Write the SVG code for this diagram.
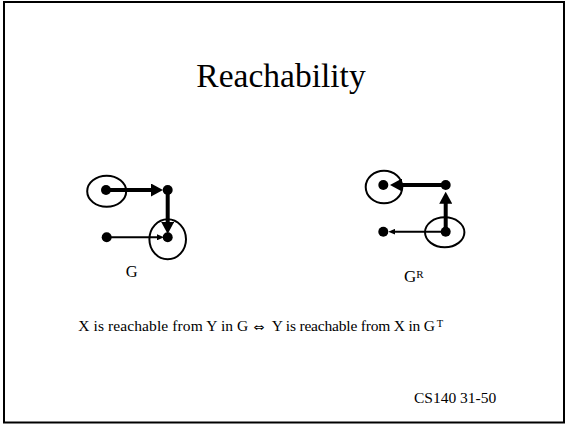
<svg xmlns="http://www.w3.org/2000/svg" width="565" height="424" viewBox="0 0 565 424">
<style>
text{font-family:"Liberation Serif","Times New Roman",serif;fill:#000}
.node{fill:#000}
.ring{fill:none;stroke:#000;stroke-width:2}
.thick{stroke:#000;stroke-width:4;fill:none}
.thin{stroke:#000;stroke-width:2;fill:none}
</style>
<defs>
<marker id="hb" viewBox="0 0 12 13" refX="4" refY="6.5" markerWidth="12" markerHeight="13" markerUnits="userSpaceOnUse" orient="auto"><path d="M0,0 L12,6.5 L0,13 z" fill="#000"/></marker>
<marker id="hs" viewBox="0 0 7 6" refX="2" refY="3" markerWidth="7" markerHeight="6" markerUnits="userSpaceOnUse" orient="auto"><path d="M0,0 L7,3 L0,6 z" fill="#000"/></marker>
</defs>
<rect x="4" y="2" width="560" height="420.5" fill="#fff" stroke="#000" stroke-width="2"/>
<text x="281" y="87" font-size="33.5" text-anchor="middle">Reachability</text>
<g id="connectors">
<line class="thick" x1="106" y1="190" x2="155" y2="190" marker-end="url(#hb)"/>
<line class="thick" x1="167.7" y1="190" x2="167.7" y2="226" marker-end="url(#hb)"/>
<line class="thin" x1="106.7" y1="237.3" x2="159" y2="237.3" marker-end="url(#hs)"/>
<line class="thick" x1="445.7" y1="185" x2="398" y2="185" marker-end="url(#hb)"/>
<line class="thick" x1="445.7" y1="231.7" x2="445.7" y2="199.7" marker-end="url(#hb)"/>
<line class="thin" x1="445.7" y1="231.7" x2="393.3" y2="231.7" marker-end="url(#hs)"/>
</g>
<g id="g-a"><ellipse class="ring" cx="106.7" cy="191.3" rx="19.5" ry="15.5"/><circle class="node" cx="106" cy="190" r="5"/></g>
<g id="g-b"><circle class="node" cx="167.7" cy="190" r="5"/></g>
<g id="g-c"><ellipse class="ring" cx="167.7" cy="239.3" rx="18.3" ry="20"/><circle class="node" cx="167.7" cy="237.3" r="5"/></g>
<g id="g-d"><circle class="node" cx="106.7" cy="237.3" r="5"/></g>
<g id="r-a"><ellipse class="ring" cx="384" cy="187" rx="18.3" ry="16.3"/><circle class="node" cx="383.3" cy="185" r="5"/></g>
<g id="r-b"><circle class="node" cx="445.7" cy="185" r="5"/></g>
<g id="r-c"><ellipse class="ring" cx="444.7" cy="232.3" rx="19.7" ry="15"/><circle class="node" cx="445.7" cy="231.7" r="5"/></g>
<g id="r-d"><circle class="node" cx="383.3" cy="231.7" r="5"/></g>
<text x="131.7" y="276.7" font-size="16.5" text-anchor="middle">G</text>
<text x="404" y="282" font-size="17">G<tspan font-size="11" dy="-4">R</tspan></text>
<text x="78.3" y="330.5" font-size="15.5"><tspan textLength="170" lengthAdjust="spacing">X is reachable from Y in G</tspan><tspan x="253.3" font-family="DejaVu Sans,sans-serif" font-size="11" textLength="11" lengthAdjust="spacingAndGlyphs">⇔</tspan><tspan x="271.7" textLength="163.3" lengthAdjust="spacing">Y is reachable from X in G</tspan><tspan x="436.7" font-size="10.5" dy="-4">T</tspan></text>
<text x="414" y="403.3" font-size="15.5">CS140 31-50</text>
</svg>
